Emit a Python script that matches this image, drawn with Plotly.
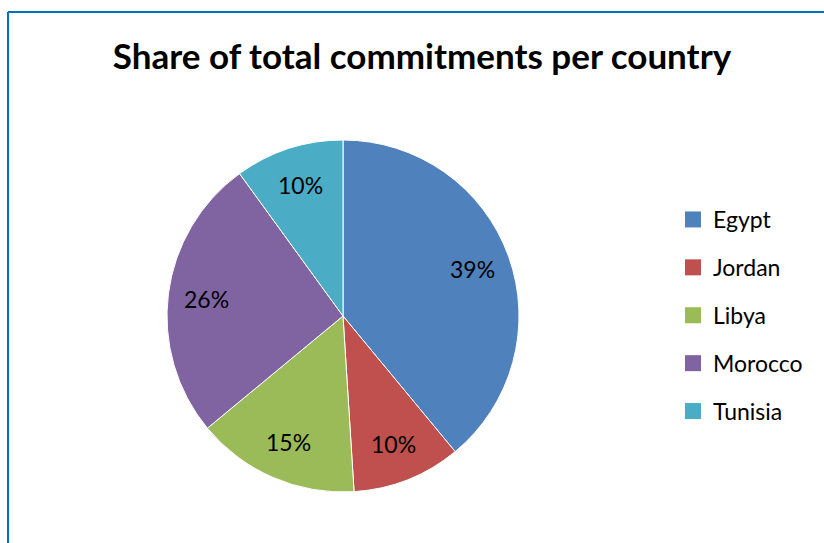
import math
import plotly.graph_objects as go

W, H = 824, 543

countries = ["Egypt", "Jordan", "Libya", "Morocco", "Tunisia"]
shares = [39, 10, 15, 26, 10]
colors = ["#4F81BD", "#C0504D", "#9BBB59", "#8064A2", "#4BACC6"]
title_text = "Share of total commitments per country"

FONT = "Lato"

# pie box in pixels
cx, cy, r = 343, 316, 176
label_r = 0.78 * r

fig = go.Figure()
fig.add_trace(go.Pie(
    labels=countries,
    values=shares,
    sort=False,
    direction="clockwise",
    rotation=0,
    marker=dict(colors=colors, line=dict(color="white", width=1)),
    textinfo="none",
    showlegend=False,
    domain=dict(x=[(cx - r) / W, (cx + r) / W], y=[1 - (cy + r) / H, 1 - (cy - r) / H]),
    hoverinfo="label+percent",
))

# legend entries (one per country, each in its own group so the gap applies)
for name, col in zip(countries, colors):
    fig.add_trace(go.Scatter(
        x=[None], y=[None], mode="markers", name=name,
        legendgroup=name,
        marker=dict(symbol="square", size=16, color=col, line=dict(width=0)),
        hoverinfo="skip",
    ))

# percentage labels placed at the middle angle of each slice
total = sum(shares)
annotations = []
cum = 0.0
for v in shares:
    mid = (cum + v / 2) / total * 2 * math.pi
    cum += v
    px = cx + label_r * math.sin(mid)
    py = cy - label_r * math.cos(mid)
    annotations.append(dict(
        x=px / W, y=1 - py / H, xref="paper", yref="paper",
        text=f"{round(v / total * 100)}%", showarrow=False,
        font=dict(family=FONT, size=23, color="black"),
        xanchor="center", yanchor="middle",
    ))

fig.update_layout(
    width=W, height=H,
    margin=dict(l=0, r=0, t=0, b=0),
    paper_bgcolor="white",
    plot_bgcolor="white",
    font=dict(family=FONT, color="black"),
    xaxis=dict(visible=False),
    yaxis=dict(visible=False),
    title=dict(
        text="<b>" + title_text + "</b>",
        font=dict(family=FONT, size=35, color="black"),
        x=422 / W, xanchor="center",
        y=1 - 57 / H, yanchor="middle",
        yref="container", xref="container",
    ),
    legend=dict(
        x=673 / W, xanchor="left",
        y=1 - 198 / H, yanchor="top",
        font=dict(family=FONT, size=23, color="black"),
        traceorder="grouped",
        tracegroupgap=15,
        bgcolor="rgba(0,0,0,0)",
    ),
    annotations=annotations,
    shapes=[
        dict(type="line", xref="paper", yref="paper",
             x0=8 / W, x1=1.01, y0=1 - 12 / H, y1=1 - 12 / H,
             line=dict(color="#0070C0", width=2)),
        dict(type="line", xref="paper", yref="paper",
             x0=8 / W, x1=8 / W, y0=1 - 12 / H, y1=-0.01,
             line=dict(color="#0070C0", width=2)),
    ],
)

fig.write_html("out.html")
